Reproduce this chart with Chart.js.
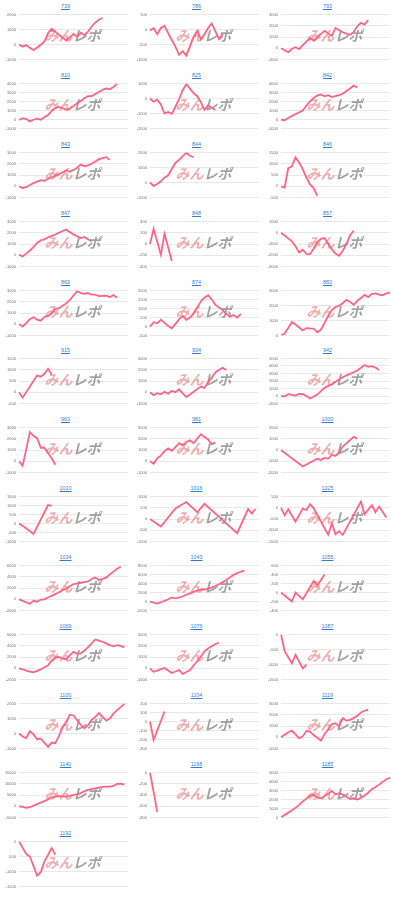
<!DOCTYPE html>
<html>
<head>
<meta charset="utf-8">
<script src="https://cdn.jsdelivr.net/npm/chart.js"></script>
<style>
    html, body { margin: 0; padding: 0; background: #fff; }
    #grid {
        display: grid;
        grid-template-columns: repeat(3, 131px);
        grid-auto-rows: 68.9px;
        width: 393px;
    }
    .cell { position: relative; width: 131px; height: 68.9px; }
    .ttl {
        position: absolute; top: 3px; left: 0; right: 0;
        text-align: center;
        font: 5.4px "Liberation Sans", Arial, sans-serif;
        line-height: 6px;
        color: #2f7fd8;
        text-decoration: underline;
    }
    .cell canvas { position: absolute; top: 9px; left: 0; }
</style>
</head>
<body>
<div id="grid"></div>
<script>
// x slots (game progress), shared by every machine
const slots = ['1','2','3','4','5','6','7','8','9','10','11','12','13','14','15','16',
               '17','18','19','20','21','22','23','24','25','26','27','28','29','30','31'];

// machine numbers, in page order
const machineNos = ['739','786','793','810','825','842','843','844','846','847','848','857',
                    '869','874','882','915','934','942','963','981','1000','1010','1016','1025',
                    '1034','1043','1055','1069','1076','1087','1100','1104','1119','1140','1168','1185','1192'];

// y axis ticks per machine
const axisMin  = [-1000,-1000,-1000,-1000,-2000,-1000,-1000,-1000,-500,-1000,-400,-3000,
                  -1000,-500,0,-500,-1000,-1000,-1000,-1000,-2000,-1000,-1000,-1500,
                  -2000,-2000,-400,-2000,-1000,-1500,-1000,-300,-1000,-5000,-800,0,-1500];
const axisMax  = [2000,500,3000,4000,1000,4000,3000,2000,1500,3000,400,1000,
                  3000,2000,3000,1500,3000,5000,3000,3000,2000,1500,1000,500,
                  6000,8000,600,6000,3000,0,2000,200,3000,15000,0,5000,0];
const axisStep = [1000,500,1000,1000,1000,1000,1000,1000,500,1000,200,1000,
                  1000,500,1000,500,1000,1000,1000,1000,1000,500,500,500,
                  2000,2000,200,2000,1000,500,1000,100,1000,5000,200,1000,500];

// balance (差枚) per machine
const s739  = [0,-140,-40,-220,-380,-200,-20,200,760,1040,850,650,450,280,480,700,520,780,620,850,1200,1450,1650,1760];
const s786  = [-30,40,-160,50,120,-120,-350,-570,-840,-720,-870,-560,-250,-40,-320,-160,50,200,-60,-320,-140];
const s793  = [0,-170,-340,-40,100,-80,280,600,900,680,980,1270,1550,1320,1100,1800,1600,1420,1300,1200,1450,1950,2260,2100,2500];
const s810  = [-50,150,50,-200,-20,100,-30,250,500,950,1270,1400,1250,1070,1250,1500,1800,2050,2350,2600,2600,2830,3050,3300,3430,3350,3600,3950];
const s825  = [0,-215,-80,-400,-1000,-900,-1020,-550,-50,550,960,650,350,150,-250,-760,-470,-620,-760];
const s842  = [0,-70,170,380,620,800,1000,1550,2000,2400,2650,2770,2570,2700,2500,2600,2700,2850,3150,3450,3750,3560];
const s843  = [0,-150,-80,120,280,420,550,480,650,800,950,1080,1250,1420,1290,1450,1650,1920,1780,1850,2000,2200,2400,2500,2580,2340];
const s844  = [0,-220,-100,80,320,480,900,1300,1500,1750,1980,1780,1680];
const s846  = [0,-60,800,880,1280,1050,750,380,80,-80,-420];
const s847  = [50,-100,150,420,750,1100,1320,1400,1600,1720,1840,2000,2150,2290,2050,1850,1680,1520,1620,1420,1240];
const s848  = [0,270,null,-190,180,null,-300];
const s857  = [0,-250,-500,-760,-1200,-1740,-1510,-1870,-1900,-1400,-800,-550,-480,-1000,-1450,-1850,-2050,-1600,-1000,-250,180];
const s869  = [0,-190,100,450,620,420,320,650,750,950,1350,1420,1650,1850,2150,2550,2940,2750,2700,2780,2620,2620,2490,2520,2540,2400,2590,2350];
const s874  = [0,240,180,375,200,30,-100,150,400,590,375,500,750,1050,1400,1600,1730,1500,1200,1050,910,700,540,640,500,700];
const s882  = [0,140,500,900,740,540,340,500,480,470,220,400,850,1300,1700,1900,1980,2150,2380,2250,2040,2300,2500,2700,2550,2750,2800,2720,2680,2800,2850];
const s915  = [0,-240,null,null,null,750,690,820,1040,790];
const s934  = [0,-260,-80,-180,50,-130,130,0,260,-100,-420,-200,50,280,500,390,900,1300,1760,2000,2160,1970];
const s942  = [0,-40,250,150,80,300,250,0,-320,-50,200,650,1100,1350,1550,1900,2200,2500,2750,2950,3160,3400,3750,4120,3880,3960,3800,3440];
const s963  = [0,-400,null,2580,2250,2050,1200,1200,null,270,-300];
const s981  = [0,-210,270,500,900,1140,930,1250,1600,1410,1700,1860,1600,2000,2390,2150,1940,1520,1650];
const s1000 = [0,null,null,null,null,null,-1460,null,null,null,-780,-880,-680,-780,-420,-520,-210,310,null,null,1170,1010];
const s1010 = [0,-120,null,null,-570,null,null,null,1020,970];
const s1016 = [0,null,null,-330,null,null,null,470,null,null,750,null,null,300,null,670,null,null,null,null,null,null,null,null,-630,null,null,440,240,440];
const s1025 = [0,-330,-70,null,-620,null,-30,-110,160,-30,null,null,null,-1200,-690,-1170,-1040,-1200,null,null,null,null,270,-290,null,110,-200,50,null,-430];
const s1034 = [0,null,null,-800,-270,-430,-50,0,370,600,910,1250,1600,1870,2300,2700,2800,2930,3050,3150,3600,3840,3410,3600,3840,4400,4900,5400,5760];
const s1043 = [0,-250,-450,-150,150,500,900,700,900,1170,1500,1800,2150,2450,2670,2670,2850,3100,3450,3840,4300,4750,5350,5900,6300,6600,6900];
const s1055 = [0,-65,null,-200,0,null,-150,null,null,255,157,null,400];
const s1069 = [0,-200,-400,-600,-700,-450,-200,200,550,1400,1950,2030,1700,1600,2300,2900,2600,2650,3100,3750,4400,5100,4900,4700,4400,4100,3900,4110,3950,3700];
const s1076 = [0,-310,-200,-80,30,-200,-420,-280,-160,-490,-330,-160,250,620,1050,1500,1750,1950,2150,2260];
const s1087 = [0,-560,null,-960,-680,null,-1130,-1000];
const s1100 = [0,-200,-300,160,-60,-380,-340,-600,-880,-600,-640,-150,400,750,1250,1200,880,580,350,550,900,1100,1360,1100,850,990,1320,1550,1750,1960];
const s1104 = [0,-205,null,null,110];
const s1119 = [0,230,450,600,250,-100,100,550,500,200,-50,-290,300,700,1150,1250,950,1700,1470,1550,1700,1900,2200,2350,2450];
const s1140 = [0,-300,-660,-400,300,930,1600,2300,3000,3900,4300,4520,4400,4250,4600,5100,5400,5800,6700,7300,7600,7900,8250,8600,8700,8700,9000,9900,10000,9600];
const s1168 = [0,null,-700];
const s1185 = [0,280,550,800,1080,1400,1800,2100,2450,2500,2220,2150,2400,2650,2940,2550,2700,2550,2300,2060,2150,2000,2200,2450,2750,3140,3350,3650,3950,4250,4400];
const s1192 = [0,null,-420,-500,null,-1140,-1020,-670,null,-220,-440];

const series = [s739,s786,s793,s810,s825,s842,s843,s844,s846,s847,s848,s857,
                s869,s874,s882,s915,s934,s942,s963,s981,s1000,s1010,s1016,s1025,
                s1034,s1043,s1055,s1069,s1076,s1087,s1100,s1104,s1119,s1140,s1168,s1185,s1192];

// "みんレポ" logo behind each line
const watermark = {
    id: 'watermark',
    beforeDatasetsDraw(chart) {
        const ctx = chart.ctx;
        const area = chart.chartArea;
        ctx.save();
        ctx.font = 'italic bold 14px "Noto Sans CJK JP"';
        ctx.textBaseline = 'middle';
        const w1 = ctx.measureText('みん').width;
        const w2 = ctx.measureText('レポ').width;
        const x = (area.left + area.right) / 2 - (w1 + w2) / 2 - 1;
        const y = (area.top + area.bottom) / 2 - 1;
        ctx.fillStyle = 'rgba(226,105,105,0.55)';
        ctx.fillText('みん', x, y);
        ctx.fillStyle = 'rgba(100,100,100,0.6)';
        ctx.fillText('レポ', x + w1, y);
        ctx.restore();
    }
};

const grid = document.getElementById('grid');

machineNos.forEach((no, i) => {
    const cell = document.createElement('div');
    cell.className = 'cell';
    cell.innerHTML = `<a class="ttl" href="#">${no}</a><canvas width="131" height="56"></canvas>`;
    grid.appendChild(cell);

    new Chart(cell.querySelector('canvas'), {
        type: 'line',
        data: {
            labels: slots,
            datasets: [{
                data: series[i],
                borderColor: '#ff6384',
                borderWidth: 1.8,
                pointRadius: 0,
                tension: 0,
                spanGaps: true,
                fill: false
            }]
        },
        options: {
            responsive: false,
            animation: false,
            events: [],
            layout: { padding: { top: 1, right: 3, bottom: 0, left: 0 } },
            plugins: {
                legend: { display: false },
                tooltip: { enabled: false }
            },
            scales: {
                x: { display: false },
                y: {
                    min: axisMin[i],
                    max: axisMax[i],
                    ticks: {
                        stepSize: axisStep[i],
                        color: '#707070',
                        padding: 3,
                        font: { size: 4, family: '"Liberation Sans", Arial, sans-serif' },
                        callback: value => String(value)
                    },
                    grid: { color: '#e8e8e8', drawTicks: false },
                    border: { display: false },
                    afterFit: scale => { scale.width = 19; }
                }
            }
        },
        plugins: [watermark]
    });
});
</script>
</body>
</html>
